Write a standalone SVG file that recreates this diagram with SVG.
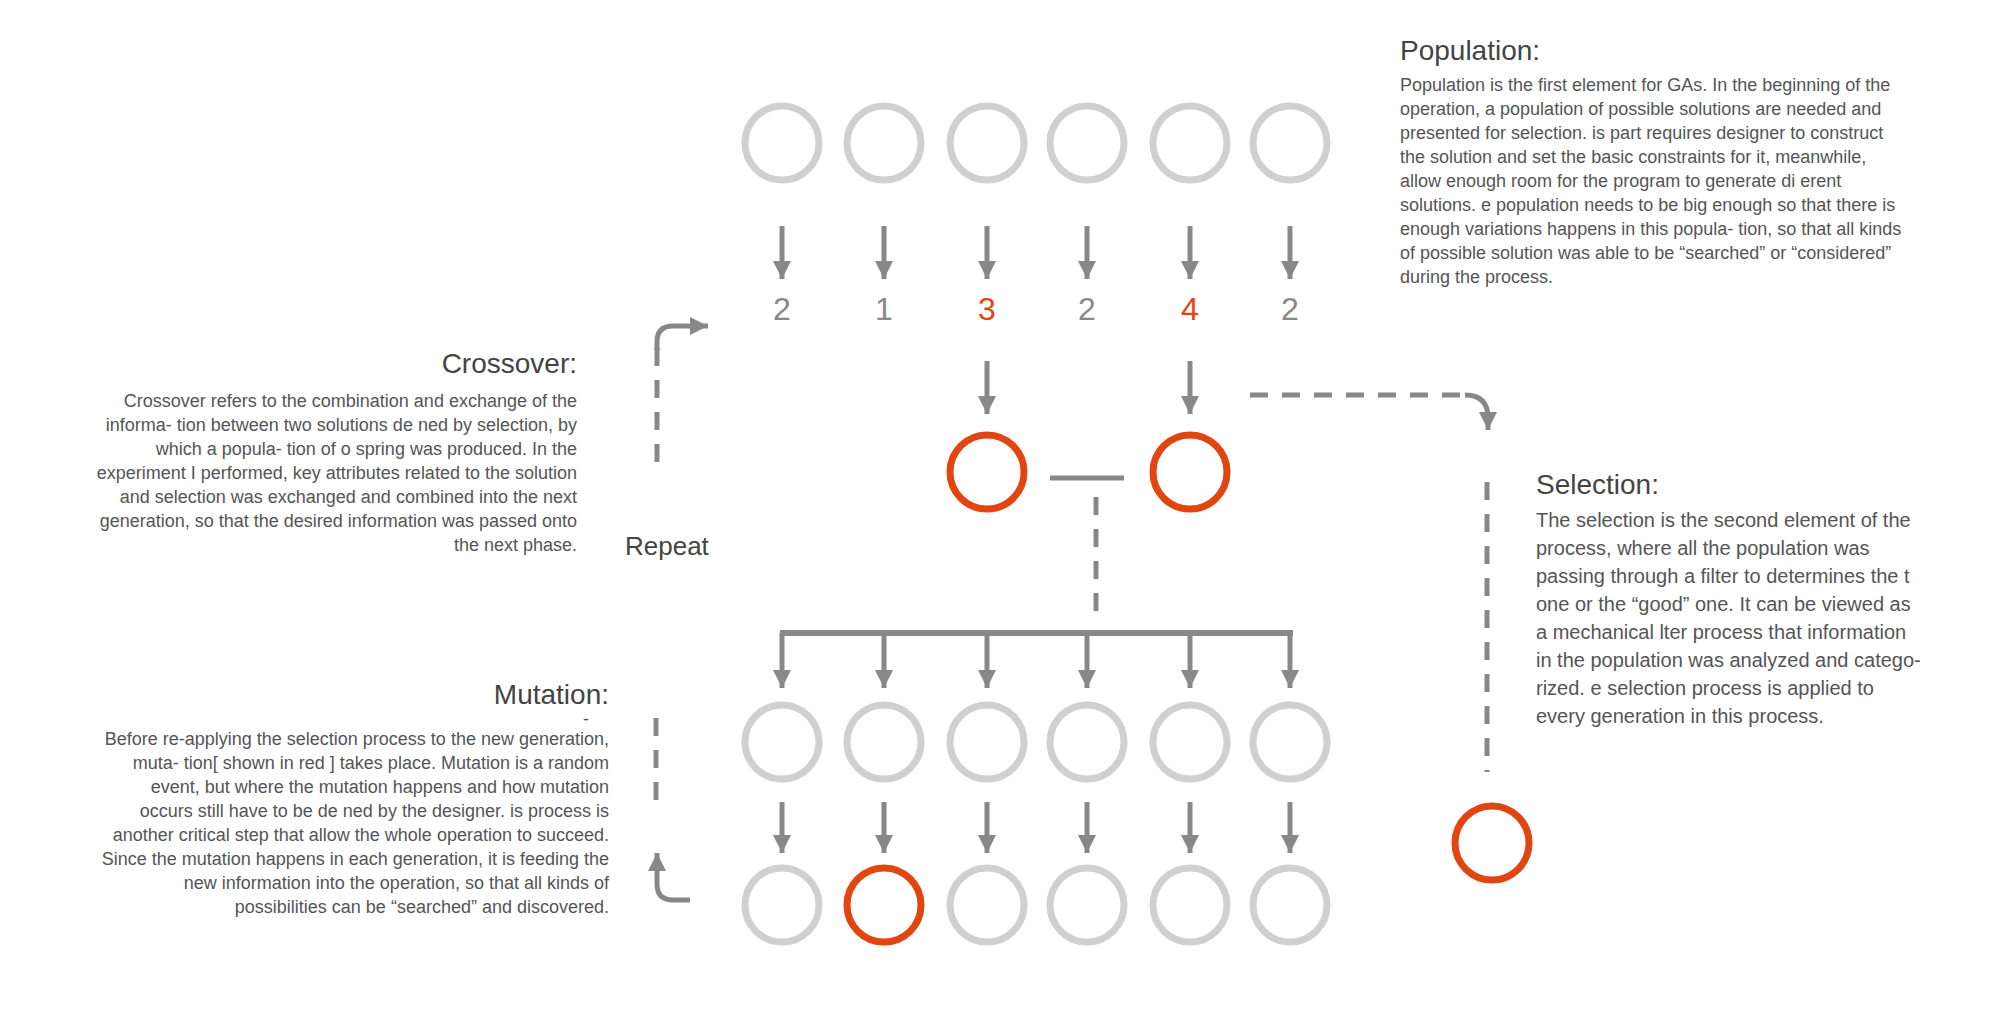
<svg xmlns="http://www.w3.org/2000/svg" width="2012" height="1023" viewBox="0 0 2012 1023">
<style>
.g{fill:none;stroke:#d0d0d0;stroke-width:7}
.r{fill:none;stroke:#e2450f;stroke-width:7}
.a{stroke:#888;stroke-width:5;fill:none}
.d{stroke:#888;stroke-width:5;fill:none;stroke-dasharray:18 14}
.h{font-family:"Liberation Sans",Arial,sans-serif;font-size:28px;fill:#444}
.b{font-family:"Liberation Sans",Arial,sans-serif;font-size:18px;fill:#555}
.s{font-family:"Liberation Sans",Arial,sans-serif;font-size:20px;fill:#555}
.n{font-family:"Liberation Sans",Arial,sans-serif;font-size:32px;fill:#888;text-anchor:middle}
</style>
<defs>
<marker id="ah" markerUnits="userSpaceOnUse" markerWidth="20" markerHeight="20" refX="18" refY="9" orient="auto">
<path d="M0,0 L18,9 L0,18 Z" fill="#888"/>
</marker>
</defs>
<rect width="2012" height="1023" fill="#fff"/>
<g id="row1">
<circle class="g" cx="782" cy="143" r="37"/><circle class="g" cx="884" cy="143" r="37"/><circle class="g" cx="987" cy="143" r="37"/><circle class="g" cx="1087" cy="143" r="37"/><circle class="g" cx="1190" cy="143" r="37"/><circle class="g" cx="1290" cy="143" r="37"/>
</g>
<g id="scores">
<text class="n" x="782" y="320">2</text><text class="n" x="884" y="320">1</text><text class="n" x="987" y="320" fill="#e2450f" style="fill:#e2450f">3</text><text class="n" x="1087" y="320">2</text><text class="n" x="1190" y="320" style="fill:#e2450f">4</text><text class="n" x="1290" y="320">2</text>
</g>
<g id="parents">
<circle class="r" cx="987" cy="472" r="37"/><circle class="r" cx="1190" cy="472" r="37"/>
</g>
<g id="row2">
<circle class="g" cx="782" cy="742" r="37"/><circle class="g" cx="884" cy="742" r="37"/><circle class="g" cx="987" cy="742" r="37"/><circle class="g" cx="1087" cy="742" r="37"/><circle class="g" cx="1190" cy="742" r="37"/><circle class="g" cx="1290" cy="742" r="37"/>
</g>
<g id="row3">
<circle class="g" cx="782" cy="905" r="37"/><circle class="r" cx="884" cy="905" r="37"/><circle class="g" cx="987" cy="905" r="37"/><circle class="g" cx="1087" cy="905" r="37"/><circle class="g" cx="1190" cy="905" r="37"/><circle class="g" cx="1290" cy="905" r="37"/>
</g>
<g id="selected">
<circle class="r" cx="1492" cy="843" r="37"/>
</g>
<g id="connectors">
<line class="a" x1="782" y1="226" x2="782" y2="279" marker-end="url(#ah)"/><line class="a" x1="884" y1="226" x2="884" y2="279" marker-end="url(#ah)"/><line class="a" x1="987" y1="226" x2="987" y2="279" marker-end="url(#ah)"/><line class="a" x1="1087" y1="226" x2="1087" y2="279" marker-end="url(#ah)"/><line class="a" x1="1190" y1="226" x2="1190" y2="279" marker-end="url(#ah)"/><line class="a" x1="1290" y1="226" x2="1290" y2="279" marker-end="url(#ah)"/>
<line class="a" x1="987" y1="361" x2="987" y2="414" marker-end="url(#ah)"/><line class="a" x1="1190" y1="361" x2="1190" y2="414" marker-end="url(#ah)"/>
<line class="a" x1="1050" y1="478" x2="1124" y2="478"/>
<line class="d" x1="1096" y1="497" x2="1096" y2="618"/>
<line class="a" x1="780" y1="633" x2="1293" y2="633" style="stroke-width:6"/>
<line class="a" x1="782" y1="633" x2="782" y2="688" marker-end="url(#ah)"/><line class="a" x1="884" y1="633" x2="884" y2="688" marker-end="url(#ah)"/><line class="a" x1="987" y1="633" x2="987" y2="688" marker-end="url(#ah)"/><line class="a" x1="1087" y1="633" x2="1087" y2="688" marker-end="url(#ah)"/><line class="a" x1="1190" y1="633" x2="1190" y2="688" marker-end="url(#ah)"/><line class="a" x1="1290" y1="633" x2="1290" y2="688" marker-end="url(#ah)"/>
<line class="a" x1="782" y1="802" x2="782" y2="853" marker-end="url(#ah)"/><line class="a" x1="884" y1="802" x2="884" y2="853" marker-end="url(#ah)"/><line class="a" x1="987" y1="802" x2="987" y2="853" marker-end="url(#ah)"/><line class="a" x1="1087" y1="802" x2="1087" y2="853" marker-end="url(#ah)"/><line class="a" x1="1190" y1="802" x2="1190" y2="853" marker-end="url(#ah)"/><line class="a" x1="1290" y1="802" x2="1290" y2="853" marker-end="url(#ah)"/>
<line class="d" x1="1250" y1="395" x2="1465" y2="395"/>
<path class="a" d="M1465,395 Q1488,395 1488,418 L1488,430" marker-end="url(#ah)"/>
<line class="d" x1="1487" y1="482" x2="1487" y2="772"/>
<line class="d" x1="657" y1="462" x2="657" y2="348" style="stroke-dasharray:18 14"/>
<path class="a" d="M657,350 L657,342 Q657,326 673,326 L708,326" marker-end="url(#ah)"/>
<line class="d" x1="656" y1="718" x2="656" y2="804"/>
<path class="a" d="M690,900 L673,900 Q657,900 657,884 L657,853" marker-end="url(#ah)"/>
</g>
<g id="population-text">
<text class="h" x="1400" y="60">Population:</text>
<text class="b" x="1400" y="91">Population is the first element for GAs. In the beginning of the</text>
<text class="b" x="1400" y="115">operation, a population of possible solutions are needed and</text>
<text class="b" x="1400" y="139">presented for selection.  is part requires designer to construct</text>
<text class="b" x="1400" y="163">the solution and set the basic constraints for it, meanwhile,</text>
<text class="b" x="1400" y="187">allow enough room for the program to generate di erent</text>
<text class="b" x="1400" y="211">solutions.  e population needs to be big enough so that there is</text>
<text class="b" x="1400" y="235">enough variations happens in this popula- tion, so that all kinds</text>
<text class="b" x="1400" y="259">of possible solution was able to be “searched” or “considered”</text>
<text class="b" x="1400" y="283">during the process.</text>
</g>
<g id="crossover-text" text-anchor="end">
<text class="h" x="577" y="373">Crossover:</text>
<text class="b" x="577" y="407">Crossover refers to the combination and exchange of the</text>
<text class="b" x="577" y="431">informa- tion between two solutions de ned by selection, by</text>
<text class="b" x="577" y="455">which a popula- tion of o spring was produced. In the</text>
<text class="b" x="577" y="479">experiment I performed, key attributes related to the solution</text>
<text class="b" x="577" y="503">and selection was exchanged and combined into the next</text>
<text class="b" x="577" y="527">generation, so that the desired information was passed onto</text>
<text class="b" x="577" y="551">the next phase.</text>
</g>
<g id="repeat-text"><text class="h" x="625" y="555" style="font-size:26px">Repeat</text></g>
<g id="mutation-text" text-anchor="end">
<text class="h" x="609" y="704">Mutation:</text>
<text class="b" x="589" y="725">-</text>
<text class="b" x="609" y="745">Before re-applying the selection process to the new generation,</text>
<text class="b" x="609" y="769">muta- tion[ shown in red ] takes place. Mutation is a random</text>
<text class="b" x="609" y="793">event, but where the mutation happens and how mutation</text>
<text class="b" x="609" y="817">occurs still have to be de ned by the designer.  is process is</text>
<text class="b" x="609" y="841">another critical step that allow the whole operation to succeed.</text>
<text class="b" x="609" y="865">Since the mutation happens in each generation, it is feeding the</text>
<text class="b" x="609" y="889">new information into the operation, so that all kinds of</text>
<text class="b" x="609" y="913">possibilities can be “searched” and discovered.</text>
</g>
<g id="selection-text">
<text class="h" x="1536" y="494">Selection:</text>
<text class="s" x="1536" y="527">The selection is the second element of the</text>
<text class="s" x="1536" y="555">process, where all the population was</text>
<text class="s" x="1536" y="583">passing through a filter to determines the  t</text>
<text class="s" x="1536" y="611">one or the “good” one. It can be viewed as</text>
<text class="s" x="1536" y="639">a mechanical  lter process that information</text>
<text class="s" x="1536" y="667">in the population was analyzed and catego-</text>
<text class="s" x="1536" y="695">rized.  e selection process is applied to</text>
<text class="s" x="1536" y="723">every generation in this process.</text>
</g>
</svg>
